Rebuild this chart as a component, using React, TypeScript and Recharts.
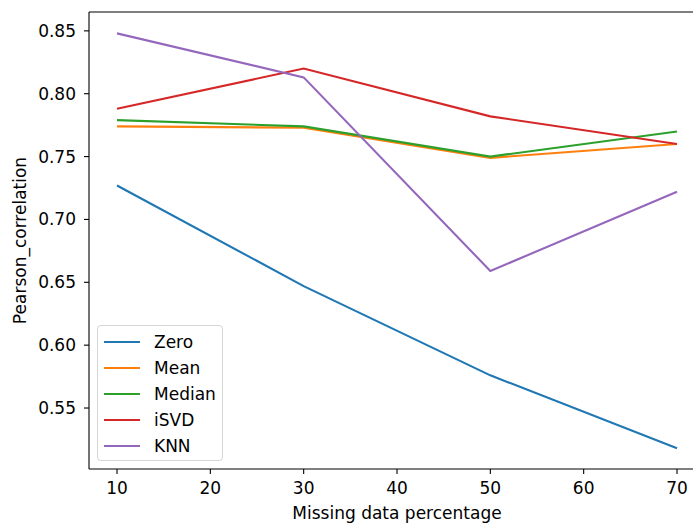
import React from 'react';
import { LineChart, Line, XAxis, YAxis, Label } from 'recharts';

const missingPct = [10, 30, 50, 70];
const zeroVals = [0.727, 0.647, 0.576, 0.518];
const meanVals = [0.774, 0.773, 0.749, 0.76];
const medianVals = [0.779, 0.774, 0.75, 0.77];
const isvdVals = [0.788, 0.82, 0.782, 0.76];
const knnVals = [0.848, 0.813, 0.659, 0.722];

const xTicks = [10, 20, 30, 40, 50, 60, 70];
const yTicks = [0.55, 0.6, 0.65, 0.7, 0.75, 0.8, 0.85];

const series = [
  { key: 'Zero', color: '#1f77b4', values: zeroVals },
  { key: 'Mean', color: '#ff7f0e', values: meanVals },
  { key: 'Median', color: '#2ca02c', values: medianVals },
  { key: 'iSVD', color: '#d62728', values: isvdVals },
  { key: 'KNN', color: '#9467bd', values: knnVals },
];

const data = missingPct.map((p, i) => {
  const row: Record<string, number> = { pct: p };
  series.forEach(s => { row[s.key] = s.values[i]; });
  return row;
});

const FONT = 'DejaVu Sans, sans-serif';
const FS = 17;

// matplotlib-style legend box, drawn over the plot
const LegendBox = () => (
  <div
    style={{
      position: 'absolute',
      left: 97,
      top: 325,
      width: 126,
      height: 136,
      border: '1px solid #d6d6d6',
      borderRadius: 4,
      background: 'rgba(255,255,255,0.8)',
      padding: '3px 0 0 6px',
      fontFamily: FONT,
      fontSize: FS,
      color: '#000',
      boxSizing: 'border-box',
      textAlign: 'left',
    }}
  >
    {series.map(s => (
      <div key={s.key} style={{ display: 'flex', alignItems: 'center', height: 26 }}>
        <div style={{ width: 36, height: 2, background: s.color, marginRight: 14 }} />
        <span>{s.key}</span>
      </div>
    ))}
  </div>
);

export default function App() {
  return (
    <div style={{ position: 'absolute', left: 0, top: 0, width: 693, height: 524, overflow: 'hidden', background: '#fff' }}>
      <LineChart
        width={708}
        height={524}
        data={data}
        margin={{ top: 11, right: 3, bottom: 0, left: 0 }}
      >
        <XAxis
          xAxisId="top"
          orientation="top"
          dataKey="pct"
          type="number"
          domain={[7, 73]}
          tick={false}
          tickLine={false}
          height={1}
          axisLine={{ stroke: '#000', strokeWidth: 1.1 }}
        />
        <XAxis
          dataKey="pct"
          type="number"
          domain={[7, 73]}
          ticks={xTicks}
          height={55}
          tickSize={5}
          tickMargin={8}
          axisLine={{ stroke: '#000', strokeWidth: 1.1 }}
          tickLine={{ stroke: '#000', strokeWidth: 1.1 }}
          tick={{ fill: '#000', fontSize: FS, fontFamily: FONT }}
        >
          <Label
            value="Missing data percentage"
            position="insideBottom"
            offset={5}
            style={{ fill: '#000', fontSize: FS, fontFamily: FONT }}
          />
        </XAxis>
        <YAxis
          type="number"
          domain={[0.5015, 0.865]}
          ticks={yTicks}
          width={89}
          tickSize={5}
          tickMargin={8}
          tickFormatter={(v: number) => v.toFixed(2)}
          axisLine={{ stroke: '#000', strokeWidth: 1.1 }}
          tickLine={{ stroke: '#000', strokeWidth: 1.1 }}
          tick={{ fill: '#000', fontSize: FS, fontFamily: FONT }}
        >
          <Label
            value="Pearson_correlation"
            angle={-90}
            position="insideLeft"
            offset={20}
            style={{ fill: '#000', fontSize: FS, fontFamily: FONT, textAnchor: 'middle' }}
          />
        </YAxis>
        {series.map(s => (
          <Line
            key={s.key}
            dataKey={s.key}
            stroke={s.color}
            strokeWidth={2.1}
            dot={false}
            activeDot={false}
            type="linear"
            isAnimationActive={false}
          />
        ))}
      </LineChart>
      <LegendBox />
    </div>
  );
}
